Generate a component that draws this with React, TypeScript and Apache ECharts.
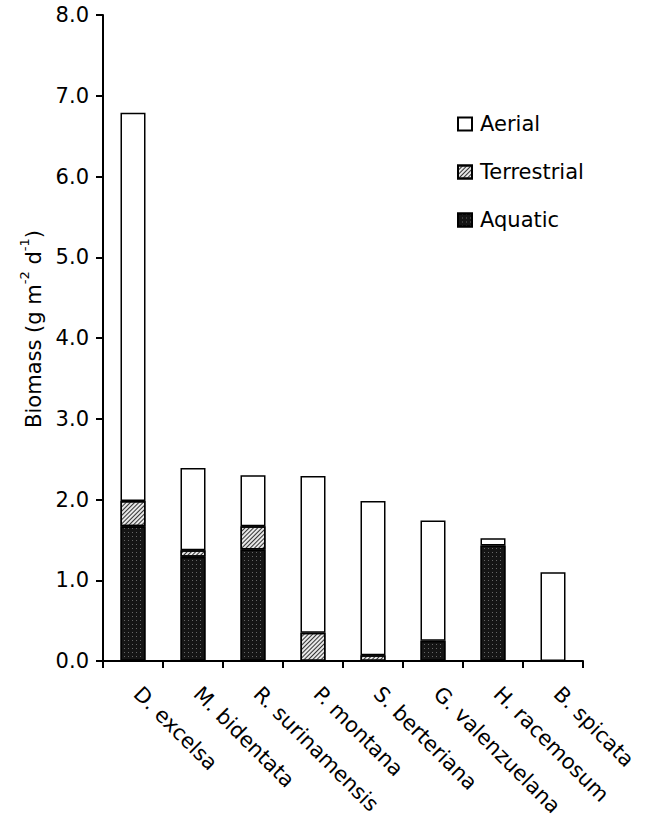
import React, { useEffect, useRef } from "react";
import * as echarts from "echarts";

const categories = [
  "D. excelsa",
  "M. bidentata",
  "R. surinamensis",
  "P. montana",
  "S. berteriana",
  "G. valenzuelana",
  "H. racemosum",
  "B. spicata",
];
const aquatic = [1.67, 1.29, 1.38, 0, 0, 0.25, 1.43, 0];
const terrestrial = [0.31, 0.08, 0.29, 0.35, 0.07, 0, 0, 0];
const aerial = [4.81, 1.02, 0.63, 1.94, 1.91, 1.49, 0.09, 1.1];
const yTicks = { min: 0, max: 8, interval: 1 };

const FONT = "DejaVu Sans";

export default function App() {
  const ref = useRef<HTMLDivElement>(null);
  useEffect(() => {
    if (!ref.current) return;
    document.body.style.margin = "0";
    const chart = echarts.init(ref.current, null, { renderer: "svg" });
    const border = { borderColor: "#000", borderWidth: 1.5 };
    const toData = (arr: number[]) => arr.map((v) => (v === 0 ? "-" : v));
    chart.setOption({
      animation: false,
      backgroundColor: "#fff",
      grid: { left: 103, right: 89, top: 15, bottom: 161 },
      legend: {
        orient: "vertical",
        left: 452,
        top: 107,
        itemWidth: 14,
        itemHeight: 13,
        itemGap: 24,
        icon: "rect",
        data: ["Aerial", "Terrestrial", "Aquatic"],
        textStyle: {
          fontFamily: FONT,
          fontSize: 21,
          color: "#000",
          lineHeight: 24,
          padding: [0, 0, 0, 3],
        },
      },
      xAxis: {
        type: "category",
        data: categories,
        boundaryGap: true,
        axisLine: { lineStyle: { color: "#000", width: 2 } },
        axisTick: { show: true, length: 7, lineStyle: { color: "#000", width: 2 } },
        axisLabel: {
          rotate: -45,
          margin: 25,
          padding: [0, 0, 0, 6],
          interval: 0,
          fontFamily: FONT,
          fontSize: 21,
          color: "#000",
        },
      },
      yAxis: {
        type: "value",
        min: yTicks.min,
        max: yTicks.max,
        interval: yTicks.interval,
        splitLine: { show: false },
        axisLine: { show: true, lineStyle: { color: "#000", width: 2 } },
        axisTick: { show: true, length: 7, lineStyle: { color: "#000", width: 2 } },
        axisLabel: {
          margin: 14,
          fontFamily: FONT,
          fontSize: 21,
          color: "#000",
          formatter: (v: number) => v.toFixed(1),
        },
      },
      graphic: [
        {
          type: "text",
          x: 31,
          y: 329,
          rotation: Math.PI / 2,
          style: {
            text: "{a|Biomass (g m}{s|-2}{a| d}{s|-1}{a|)}",
            align: "center",
            verticalAlign: "middle",
            rich: {
              a: { fontFamily: FONT, fontSize: 21, color: "#000", lineHeight: 26, verticalAlign: "bottom" },
              s: { fontFamily: FONT, fontSize: 13, color: "#000", lineHeight: 26, verticalAlign: "top", padding: [0, 0, 10, 0] },
            },
          },
        },
      ],
      series: [
        {
          name: "Aquatic",
          type: "bar",
          stack: "total",
          barWidth: 25,
          data: toData(aquatic),
          itemStyle: {
            color: "#151515",
            ...border,
            decal: {
              symbol: "rect",
              symbolSize: 1,
              dashArrayX: [1, 3],
              dashArrayY: [1, 3],
              color: "rgba(255,255,255,0.35)",
            },
          },
        },
        {
          name: "Terrestrial",
          type: "bar",
          stack: "total",
          barWidth: 25,
          data: toData(terrestrial),
          itemStyle: {
            color: "#e8e8e8",
            ...border,
            decal: {
              symbol: "rect",
              symbolSize: 1,
              dashArrayX: [1, 0],
              dashArrayY: [1, 2],
              rotation: -Math.PI / 4,
              color: "#333",
            },
          },
        },
        {
          name: "Aerial",
          type: "bar",
          stack: "total",
          barWidth: 25,
          data: toData(aerial),
          itemStyle: { color: "#fff", ...border },
        },
      ],
    });
    return () => chart.dispose();
  }, []);
  return <div ref={ref} style={{ width: 672, height: 822 }} />;
}
